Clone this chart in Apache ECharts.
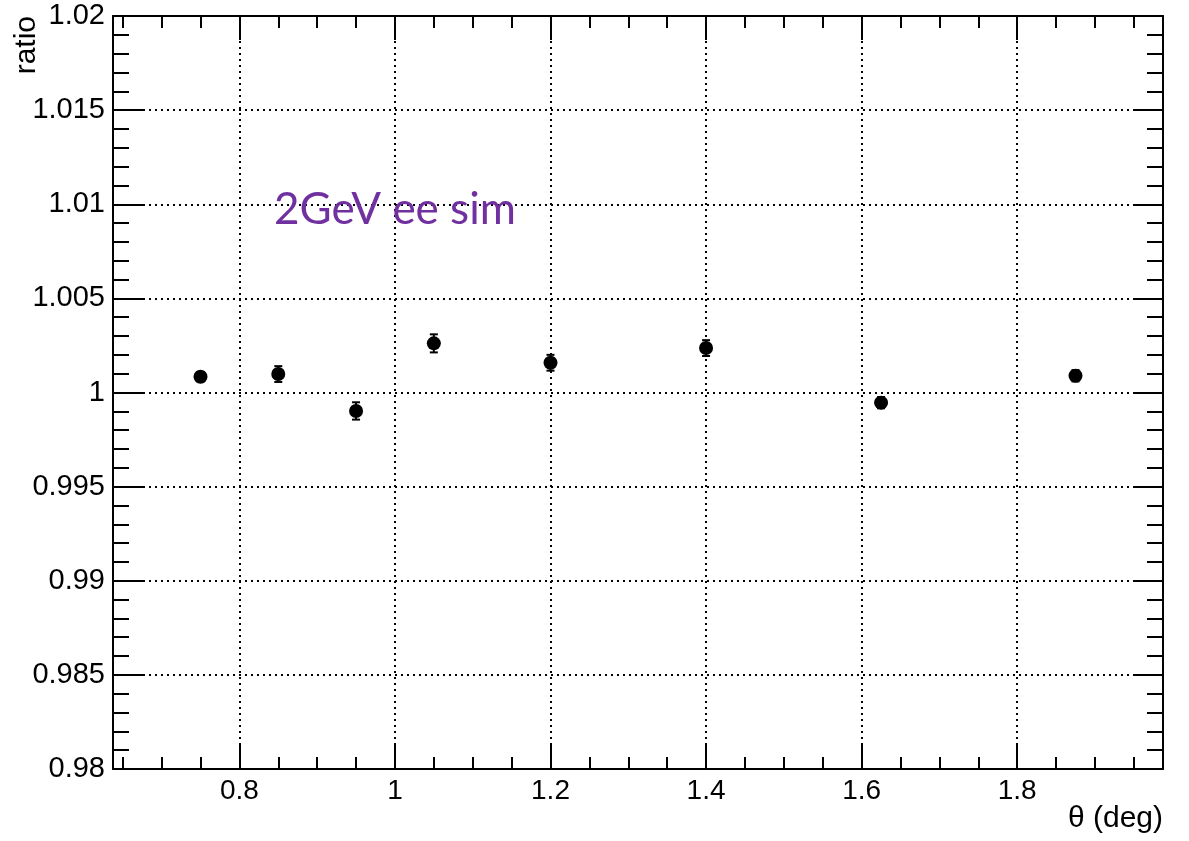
<!DOCTYPE html>
<html>
<head>
<meta charset="utf-8">
<script src="https://cdn.jsdelivr.net/npm/echarts@6/dist/echarts.min.js"></script>
<style>
  html, body { margin: 0; padding: 0; background: #fff; }
  #chart { width: 1189px; height: 841px; }
</style>
</head>
<body>
<div id="chart"></div>
<script>
// data
const thetaDeg = [0.75, 0.85, 0.95, 1.05, 1.2, 1.4, 1.625, 1.875];
const ratio    = [1.00084, 1.00098, 0.99902, 1.00261, 1.00158, 1.00236, 0.99946, 1.00089];
const ratioErr = [0.00025, 0.00042, 0.00046, 0.00048, 0.00042, 0.00042, 0.0003, 0.0003];

// tick positions on the theta axis
const xMajorTicks = [0.8, 1, 1.2, 1.4, 1.6, 1.8];
const xMinorTicks = [0.65, 0.7, 0.75, 0.85, 0.9, 0.95, 1.05, 1.1, 1.15, 1.25, 1.3, 1.35,
  1.45, 1.5, 1.55, 1.65, 1.7, 1.75, 1.85, 1.9, 1.95];

const X_MIN = 0.6375, X_MAX = 1.9875;
const Y_MIN = 0.98, Y_MAX = 1.02;

const black = '#000';
const dotted = { color: black, width: 2, type: [2, 4] };
const labelFont = 'Liberation Sans, Arial, sans-serif';

const chart = echarts.init(document.getElementById('chart'), null, { renderer: 'canvas' });

// one x axis per tick set (major / minor) on each side
function xAxisDef(position, ticks, len, withLine, withLabel) {
  return {
    type: 'value', position: position, min: X_MIN, max: X_MAX,
    axisLine: { show: withLine, onZero: false, lineStyle: { color: black, width: 2 } },
    axisTick: { show: true, inside: true, length: len, customValues: ticks,
      lineStyle: { color: black, width: 2 } },
    axisLabel: withLabel ? {
      show: true, customValues: ticks, color: black, fontSize: 28,
      fontFamily: labelFont, margin: 8
    } : { show: false },
    splitLine: { show: false }
  };
}

function yAxisDef(position, withLabel) {
  return {
    type: 'value', position: position, min: Y_MIN, max: Y_MAX, interval: 0.005,
    axisLine: { show: true, onZero: false, lineStyle: { color: black, width: 2 } },
    axisTick: { show: true, inside: true, length: 30, lineStyle: { color: black, width: 2 } },
    minorTick: { show: true, splitNumber: 5, length: 16, lineStyle: { color: black, width: 2 } },
    axisLabel: withLabel ? {
      show: true, color: black, fontSize: 29, fontFamily: labelFont, margin: 8,
      formatter: v => String(+v.toFixed(3))
    } : { show: false },
    splitLine: { show: withLabel, lineStyle: dotted }
  };
}

const errData = thetaDeg.map((x, i) => [x, ratio[i] - ratioErr[i], ratio[i] + ratioErr[i]]);
const pointData = thetaDeg.map((x, i) => [x, ratio[i]]);

chart.setOption({
  animation: false,
  backgroundColor: '#fff',
  grid: { left: 113, right: 26, top: 16, bottom: 72, containLabel: false },
  xAxis: [
    xAxisDef('bottom', xMajorTicks, 24, true, true),
    xAxisDef('bottom', xMinorTicks, 12, false, false),
    xAxisDef('top', xMajorTicks, 24, true, false),
    xAxisDef('top', xMinorTicks, 12, false, false)
  ],
  yAxis: [yAxisDef('left', true), yAxisDef('right', false)],
  graphic: [
    {
      type: 'text', x: 1163, y: 819, z: 10,
      style: { text: 'θ (deg)', fill: black, font: '30px ' + labelFont,
        align: 'right', verticalAlign: 'middle' }
    },
    {
      type: 'text', x: 27, y: 16, rotation: Math.PI / 2, z: 10,
      style: { text: 'ratio', fill: black, font: '30px ' + labelFont,
        align: 'right', verticalAlign: 'middle' }
    },
    {
      type: 'text', x: 274, y: 210, z: 10,
      style: { text: '2GeV ee sim', fill: '#7030A0', font: '44px Lato, "Open Sans", sans-serif',
        align: 'left', verticalAlign: 'middle' }
    }
  ],
  series: [
    {
      // vertical dotted grid at the major theta ticks
      type: 'scatter', xAxisIndex: 0, yAxisIndex: 0, data: [], z: 1, silent: true,
      markLine: {
        silent: true, symbol: 'none', animation: false,
        label: { show: false },
        lineStyle: dotted,
        data: xMajorTicks.map(v => ({ xAxis: v }))
      }
    },
    {
      type: 'custom', xAxisIndex: 0, yAxisIndex: 0, z: 3, silent: true,
      encode: { x: 0, y: [1, 2] },
      data: errData,
      renderItem: function (params, api) {
        const x = api.value(0);
        const lo = api.coord([x, api.value(1)]);
        const hi = api.coord([x, api.value(2)]);
        const hw = 4;
        const st = { stroke: black, lineWidth: 2 };
        return {
          type: 'group',
          children: [
            { type: 'line', shape: { x1: hi[0], y1: hi[1], x2: lo[0], y2: lo[1] }, style: st },
            { type: 'line', shape: { x1: hi[0] - hw, y1: hi[1], x2: hi[0] + hw, y2: hi[1] }, style: st },
            { type: 'line', shape: { x1: lo[0] - hw, y1: lo[1], x2: lo[0] + hw, y2: lo[1] }, style: st }
          ]
        };
      }
    },
    {
      type: 'scatter', xAxisIndex: 0, yAxisIndex: 0, z: 4, silent: true,
      symbol: 'circle', symbolSize: 14,
      itemStyle: { color: black, opacity: 1 },
      data: pointData
    }
  ]
});
</script>
</body>
</html>
